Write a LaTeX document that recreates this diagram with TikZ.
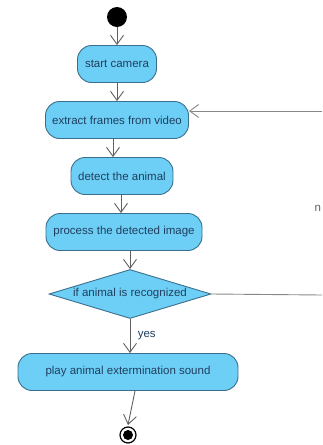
\documentclass[tikz,border=0pt]{standalone}
\usepackage{fontspec}
\setmainfont{Liberation Sans}
\usetikzlibrary{arrows.meta,shapes.geometric}
\definecolor{actfill}{HTML}{6ECFF6}
\definecolor{actline}{HTML}{3B6E8C}
\definecolor{acttext}{HTML}{1F3F5F}
\definecolor{flowline}{HTML}{606060}
\begin{document}
\begin{tikzpicture}[x=1pt,y=-1pt,
        every node/.style={font=\fontsize{11.5}{13}\selectfont, text=acttext},
        activity/.style={draw=actline, line width=0.9pt, fill=actfill, rounded corners=14pt,
            minimum height=37pt, inner sep=0pt},
        decision/.style={diamond, draw=actline, line width=0.9pt, fill=actfill, aspect=3.3,
            minimum width=162pt, minimum height=49pt, inner sep=0pt},
        flow/.style={draw=flowline, line width=0.9pt, -{Straight Barb[length=9pt,width=13pt]}},
        backline/.style={draw=flowline!75, line width=0.9pt}]
    \useasboundingbox (0,0) rectangle (322,445);
    % start and end
    \fill[black] (117,17) circle (10);
    \coordinate (start) at (117,27);
    \draw[black, line width=1.2pt] (128,435) circle (8);
    \fill[black] (128,435) circle (5);
    \coordinate (end) at (128,425);
    % activities
    \node[activity, minimum width=79pt] (camera) at (117,64) {start camera};
    \node[activity, minimum width=143pt] (extract) at (117,120) {extract frames from video};
    \node[activity, minimum width=102pt] (detect) at (122,176) {detect the animal};
    \node[activity, minimum width=156pt] (process) at (124,232) {process the detected image};
    \node[decision] (decide) at (130,294) {if animal is recognized};
    \node[activity, minimum width=220pt] (play) at (128,372) {play animal extermination sound};
    % flows
    \draw[flow] (start) -- (camera.north);
    \draw[flow] (camera.south) -- (extract.north);
    \draw[flow] ([xshift=-4pt]extract.south) -- ([xshift=-9pt]detect.north);
    \draw[flow] ([xshift=-1pt]detect.south) -- ([xshift=-3pt]process.north);
    \draw[flow] ([xshift=6pt]process.south) -- (decide.north);
    \draw[flow] (decide.south) -- node[right=4pt, pos=0.5] (yes) {yes} ([xshift=2pt]play.north);
    \draw[flow] ([xshift=7pt]play.south) -- (end);
    % loop back (cut at the right edge)
    \coordinate (noend) at (322,295);
    \coordinate (loopin) at (322,111);
    \draw[backline] (decide.east) -- (noend);
    \draw[flow, draw=flowline!75] (loopin) -- (loopin -| extract.east);
    \node[anchor=west, inner sep=0pt, text=flowline] (no) at (314.5,208) {n};
\end{tikzpicture}
\end{document}
